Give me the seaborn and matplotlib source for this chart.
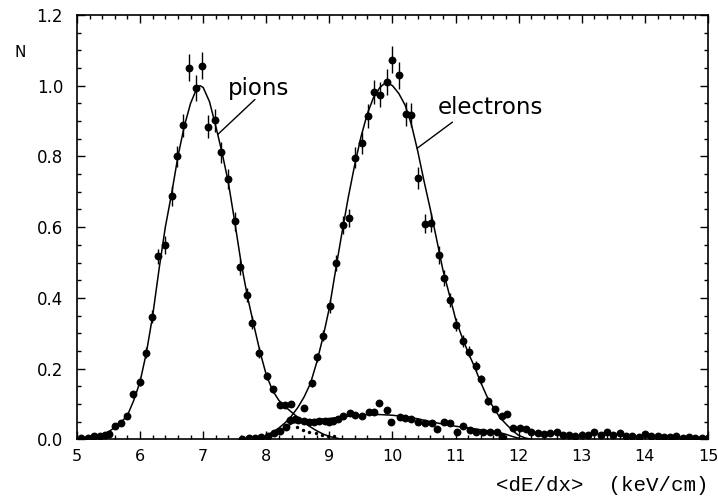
import matplotlib
matplotlib.use("Agg")
import matplotlib.pyplot as plt
import seaborn as sns
from matplotlib.ticker import MultipleLocator, FormatStrFormatter

# ---- measured points: pions -------------------------------------------------
pion_x = [5.07, 5.17, 5.27, 5.36, 5.44, 5.51, 5.61, 5.70, 5.80, 5.89, 6.00,
          6.09, 6.19, 6.29, 6.39, 6.50, 6.59, 6.68, 6.77, 6.89, 6.98, 7.08,
          7.19, 7.29, 7.40, 7.50, 7.59, 7.69, 7.78, 7.89, 8.01, 8.10, 8.21,
          8.30, 8.39]
pion_y = [0.003, 0.004, 0.008, 0.010, 0.011, 0.014, 0.039, 0.045, 0.066, 0.127,
          0.163, 0.245, 0.347, 0.517, 0.550, 0.687, 0.800, 0.888, 1.051, 0.994,
          1.056, 0.884, 0.902, 0.812, 0.736, 0.616, 0.487, 0.407, 0.330, 0.245,
          0.179, 0.142, 0.097, 0.097, 0.099]
pion_err = [0.0, 0.0, 0.0, 0.0, 0.0, 0.0, 0.006, 0.006, 0.008, 0.010, 0.012,
            0.015, 0.018, 0.022, 0.025, 0.028, 0.030, 0.033, 0.038, 0.036,
            0.038, 0.033, 0.033, 0.030, 0.028, 0.026, 0.022, 0.020, 0.018,
            0.015, 0.012, 0.010, 0.008, 0.008, 0.008]

# ---- measured points: electrons ---------------------------------------------
elec_x = [8.59, 8.72, 8.81, 8.90, 9.01, 9.11, 9.21, 9.31, 9.41, 9.51, 9.61,
          9.71, 9.80, 9.91, 10.00, 10.10, 10.21, 10.30, 10.41, 10.51, 10.61,
          10.73, 10.82, 10.91, 11.01, 11.11, 11.21, 11.32, 11.41, 11.52, 11.62,
          11.73, 11.82, 11.91, 12.02, 12.12, 12.2, 12.3, 12.4, 12.5, 12.6,
          12.7, 12.8, 12.9, 13.0, 13.1, 13.2, 13.3, 13.4, 13.5, 13.6, 13.7,
          13.8, 13.9, 14.0, 14.1, 14.2, 14.3, 14.4, 14.5, 14.6, 14.7, 14.8,
          14.9, 15.0]
elec_y = [0.088, 0.159, 0.232, 0.293, 0.376, 0.499, 0.607, 0.626, 0.796, 0.839,
          0.914, 0.982, 0.975, 1.010, 1.073, 1.029, 0.919, 0.916, 0.739, 0.610,
          0.612, 0.522, 0.456, 0.393, 0.324, 0.279, 0.248, 0.208, 0.170, 0.107,
          0.085, 0.067, 0.072, 0.031, 0.031, 0.028, 0.022, 0.018, 0.016, 0.017,
          0.020, 0.012, 0.013, 0.010, 0.012, 0.011, 0.020, 0.012, 0.022, 0.011,
          0.018, 0.009, 0.010, 0.007, 0.015, 0.008, 0.009, 0.007, 0.006, 0.008,
          0.005, 0.006, 0.004, 0.005, 0.003]
elec_err = [0.008, 0.010, 0.013, 0.015, 0.018, 0.022, 0.025, 0.026, 0.030,
            0.031, 0.033, 0.035, 0.035, 0.036, 0.038, 0.037, 0.034, 0.034,
            0.030, 0.027, 0.027, 0.025, 0.022, 0.020, 0.018, 0.017, 0.016,
            0.014, 0.013, 0.010, 0.009, 0.008, 0.008, 0.006, 0.006, 0.006,
            0.005, 0.005, 0.005, 0.005, 0.005, 0.004, 0.004, 0.004, 0.004,
            0.004, 0.004, 0.004, 0.004, 0.004, 0.004, 0.003, 0.003, 0.003,
            0.003, 0.003, 0.003, 0.003, 0.003, 0.003, 0.003, 0.003, 0.003,
            0.003, 0.003]

# ---- measured points: low broad component -----------------------------------
bkg_x = [7.62, 7.72, 7.82, 7.92, 8.02, 8.12, 8.22, 8.32, 8.38, 8.45, 8.51,
         8.60, 8.67, 8.75, 8.84, 8.93, 9.00, 9.06, 9.14, 9.22, 9.33, 9.41,
         9.51, 9.62, 9.70, 9.79, 9.91, 9.98, 10.12, 10.20, 10.30, 10.41,
         10.51, 10.62, 10.71, 10.81, 10.91, 11.02, 11.12, 11.23, 11.33, 11.44,
         11.54, 11.65, 11.73]
bkg_y = [0.002, 0.003, 0.004, 0.006, 0.010, 0.018, 0.024, 0.036, 0.055, 0.058,
         0.055, 0.052, 0.050, 0.050, 0.052, 0.052, 0.050, 0.052, 0.058, 0.067,
         0.074, 0.070, 0.066, 0.078, 0.078, 0.102, 0.083, 0.050, 0.064, 0.061,
         0.057, 0.050, 0.047, 0.045, 0.028, 0.050, 0.045, 0.022, 0.038, 0.026,
         0.022, 0.022, 0.022, 0.020, 0.007]

# small markers under the crossing region
tail_x = [8.48, 8.58, 8.68, 8.78, 8.88, 8.98, 9.08]
tail_y = [0.034, 0.027, 0.022, 0.017, 0.013, 0.010, 0.008]

# ---- fitted shapes ----------------------------------------------------------
pion_fit_x = [5.0, 5.1, 5.2, 5.3, 5.4, 5.5, 5.6, 5.7, 5.8, 5.9, 6.0, 6.1, 6.2,
              6.3, 6.4, 6.5, 6.6, 6.7, 6.8, 6.9, 6.95, 7.0, 7.1, 7.2, 7.3,
              7.4, 7.5, 7.6, 7.7, 7.8, 7.9, 8.0, 8.1, 8.2, 8.3, 8.4, 8.5, 8.6,
              8.7, 8.8, 8.9, 9.0, 9.1, 9.2]
pion_fit_y = [0.0, 0.002, 0.004, 0.008, 0.013, 0.021, 0.034, 0.048, 0.068,
              0.110, 0.163, 0.245, 0.350, 0.480, 0.600, 0.695, 0.800, 0.885,
              0.950, 0.993, 1.000, 0.995, 0.955, 0.885, 0.810, 0.725, 0.615,
              0.500, 0.405, 0.325, 0.248, 0.182, 0.138, 0.110, 0.092, 0.077,
              0.062, 0.048, 0.035, 0.024, 0.015, 0.008, 0.004, 0.0]

elec_fit_x = [8.0, 8.1, 8.2, 8.3, 8.4, 8.5, 8.6, 8.7, 8.8, 8.9, 9.0, 9.1, 9.2,
              9.3, 9.4, 9.5, 9.6, 9.7, 9.8, 9.9, 10.0, 10.1, 10.2, 10.3, 10.4,
              10.5, 10.6, 10.7, 10.8, 10.9, 11.0, 11.1, 11.2, 11.3, 11.4, 11.5,
              11.6, 11.7, 11.8, 11.9, 12.0, 12.1, 12.2]
elec_fit_y = [0.012, 0.020, 0.032, 0.047, 0.066, 0.090, 0.120, 0.158, 0.218,
              0.290, 0.372, 0.480, 0.585, 0.685, 0.775, 0.855, 0.920, 0.967,
              0.995, 1.010, 1.000, 0.978, 0.945, 0.890, 0.815, 0.730, 0.650,
              0.565, 0.478, 0.410, 0.340, 0.290, 0.245, 0.205, 0.160, 0.120,
              0.090, 0.062, 0.043, 0.025, 0.011, 0.004, 0.0]

bkg_fit_x = [7.9, 8.0, 8.1, 8.2, 8.3, 8.4, 8.5, 8.6, 8.8, 9.0, 9.2, 9.4, 9.6,
             9.8, 10.0, 10.2, 10.4, 10.6, 10.8, 11.0, 11.2, 11.4, 11.6, 11.7,
             11.8, 11.9, 12.0, 12.1]
bkg_fit_y = [0.0, 0.004, 0.010, 0.020, 0.032, 0.044, 0.051, 0.054, 0.056,
             0.059, 0.063, 0.067, 0.070, 0.070, 0.068, 0.064, 0.058, 0.050,
             0.043, 0.037, 0.032, 0.027, 0.022, 0.019, 0.014, 0.008, 0.003, 0.0]

x_major = [5, 6, 7, 8, 9, 10, 11, 12, 13, 14, 15]
y_major = [0.0, 0.2, 0.4, 0.6, 0.8, 1.0, 1.2]

# ---- figure -----------------------------------------------------------------
sns.set_theme(style="ticks")
plt.rcParams["font.family"] = ["DejaVu Sans"]

fig = plt.figure(figsize=(7.18, 4.96), dpi=100)
fig.patch.set_facecolor("white")
ax = fig.add_axes([0.1072, 0.1143, 0.8789, 0.8555])
ax.set_facecolor("white")

line_kw = dict(color="black", linewidth=1.1, sort=False, estimator=None, ax=ax)
sns.lineplot(x=pion_fit_x, y=pion_fit_y, **line_kw)
sns.lineplot(x=elec_fit_x, y=elec_fit_y, **line_kw)
sns.lineplot(x=bkg_fit_x, y=bkg_fit_y, **line_kw)

ax.errorbar(pion_x, pion_y, yerr=pion_err, fmt="none", ecolor="black",
            elinewidth=1.0, capsize=0, zorder=2)
ax.errorbar(elec_x, elec_y, yerr=elec_err, fmt="none", ecolor="black",
            elinewidth=1.0, capsize=0, zorder=2)

pt_kw = dict(color="black", s=32, linewidth=0, ax=ax, zorder=3)
sns.scatterplot(x=pion_x, y=pion_y, **pt_kw)
sns.scatterplot(x=elec_x, y=elec_y, **pt_kw)
sns.scatterplot(x=bkg_x, y=bkg_y, **pt_kw)
sns.scatterplot(x=tail_x, y=tail_y, color="black", s=6, linewidth=0, ax=ax,
                zorder=3)

ax.set_xlim(5, 15)
ax.set_ylim(0, 1.2)
ax.set_xticks(x_major)
ax.set_yticks(y_major)
ax.xaxis.set_major_formatter(FormatStrFormatter("%d"))
ax.yaxis.set_major_formatter(FormatStrFormatter("%.1f"))
ax.xaxis.set_minor_locator(MultipleLocator(0.2))
ax.yaxis.set_minor_locator(MultipleLocator(0.05))
ax.tick_params(which="both", direction="in", top=True, right=True,
               color="black", labelcolor="black", width=1.0)
ax.tick_params(which="major", length=5.5)
ax.tick_params(which="minor", length=2.8)
ax.tick_params(axis="y", which="major", pad=10, labelsize=12)
ax.tick_params(axis="x", which="major", pad=7, labelsize=11.5)
for sp in ax.spines.values():
    sp.set_visible(True)
    sp.set_color("black")
    sp.set_linewidth(1.2)

ax.set_xlabel("<dE/dx>  (keV/cm)", fontfamily="Liberation Mono", fontsize=15,
              color="black", loc="right")
ax.xaxis.set_label_coords(1.0, -0.086)
ax.set_ylabel("")
fig.text(0.028, 0.895, "N", fontsize=11, ha="center", va="center",
         color="black")

# curve labels with leader lines
ax.text(7.876, 0.975, "pions", fontsize=16.5, ha="center", va="baseline",
        color="black")
ax.annotate("", xy=(7.23, 0.862), xytext=(7.82, 0.961),
            arrowprops=dict(arrowstyle="-", lw=1.0, color="black",
                            shrinkA=0, shrinkB=0))
ax.text(11.558, 0.919, "electrons", fontsize=16.5, ha="center",
        va="baseline", color="black")
ax.annotate("", xy=(10.39, 0.823), xytext=(10.95, 0.897),
            arrowprops=dict(arrowstyle="-", lw=1.0, color="black",
                            shrinkA=0, shrinkB=0))

fig.savefig("out.png", dpi=100, facecolor="white")
